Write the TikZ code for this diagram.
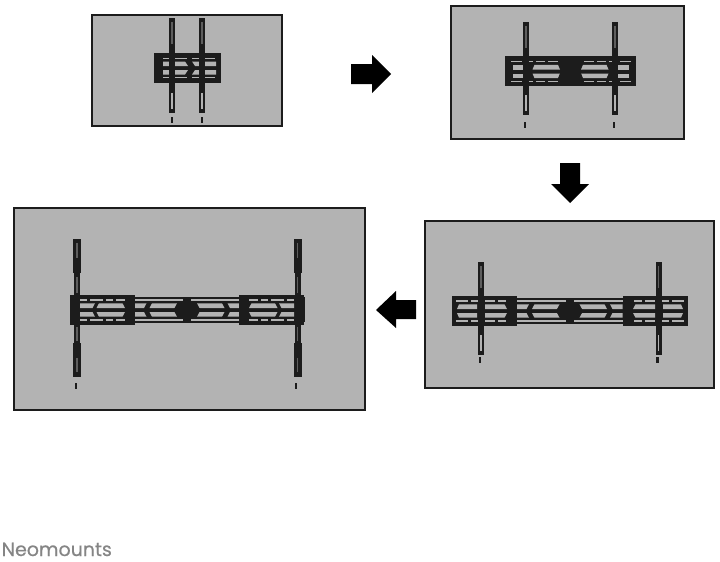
\documentclass[tikz,border=0pt]{standalone}
\usepackage{fontspec}
\setmainfont{Poppins}
\newfontfamily\brandfont{Poppins}[FakeBold=0.5]
\definecolor{panelgray}{HTML}{B3B3B3}
\definecolor{mountblack}{HTML}{1C1C1C}
\definecolor{railslot}{HTML}{5E5E5E}
\definecolor{brandgray}{HTML}{858585}
\tikzset{
  panel/.style={fill=panelgray,draw=mountblack,line width=1.2pt},
  metal/.style={fill=mountblack},
  slotfill/.style={fill=panelgray},
  railfill/.style={fill=railslot},
  blockarrow/.style={fill=black}
}
\newcommand{\slotbox}[4]{\fill[slotfill] (#1,#2) rectangle (#3,#4);}
\newcommand{\metalbox}[4]{\fill[metal] (#1,#2) rectangle (#3,#4);}
\newcommand{\railmark}[4]{\fill[railfill] (#1,#2) rectangle (#3,#4);}
% #1 x centre, #2 half-width, #3 top, #4 bottom
\newcommand{\railv}[4]{%
  \metalbox{#1-#2}{#3}{#1+#2}{#4}%
  \railmark{#1-0.6}{#3+4}{#1+0.6}{#3+26}%
  \slotbox{#1-0.8}{#4-20}{#1+0.8}{#4-4}%
}
\newcommand{\tickmark}[2]{\metalbox{#1-1.2}{#2}{#1+1.2}{#2+6}}
% two-row wide slots, rows mirrored about y=15
% #1..#4: x at top-left, bottom-left, top-right, bottom-right of the upper row
\newcommand{\widepair}[4]{%
  \fill[slotfill] (#1,8.3) -- (#3,8.3) -- (#4,13) -- (#2,13) -- cycle;
  \fill[slotfill] (#1,21.7) -- (#3,21.7) -- (#4,17) -- (#2,17) -- cycle;
}
\newcommand{\thinrows}[2]{\slotbox{#1}{4.3}{#2}{5.8}\slotbox{#1}{24}{#2}{25.5}}
% #1 outer edge x, #2 top y, #3 direction
\newcommand{\sideplate}[3]{%
  \begin{scope}[shift={(#1,#2)},xscale=#3]
    \metalbox{0}{0}{65}{30}
    \foreach \a/\b in {4/16,19/30,33/43,46/54}{\thinrows{\a}{\b}}
    \widepair{7}{5}{25}{25}
    \widepair{33}{33}{52.5}{55}
  \end{scope}%
}
\newcommand{\sideplatewide}[3]{%
  \begin{scope}[shift={(#1,#2)},xscale=#3]
    \metalbox{0}{0}{65}{30}
    \foreach \a/\b in {10/17,20/33,36/43,46/55}{\thinrows{\a}{\b}}
    \widepair{10}{10}{25}{22.5}
    \widepair{29}{26.5}{52.5}{55}
  \end{scope}%
}
% half of the extending bar: #1 centre x, #2 top y, #3 direction, #4 length
\newcommand{\barhalf}[4]{%
  \begin{scope}[shift={(#1,#2)},xscale=#3]
    \metalbox{0}{2}{#4}{28}
    \thinrows{4}{#4}
    \widepair{10}{12.5}{35}{37.5}
    \widepair{40.5}{43}{#4}{#4}
  \end{scope}%
}
\newcommand{\boss}[2]{%
  \begin{scope}[shift={(#1,#2)}]
    \fill[metal] (-14,0) -- (-7,-8) -- (7,-8) -- (14,0) -- (7,8) -- (-7,8) -- cycle;
    \metalbox{-3}{-13}{3}{13}
  \end{scope}%
}
\begin{document}
\begin{tikzpicture}[x=1pt,y=-1pt]
\useasboundingbox (0,0) rectangle (720,562);
\fill[white] (0,0) rectangle (720,562);

% panel 1
\draw[panel] (92,15) rectangle (282,126);
\metalbox{153.5}{53}{221}{83}
\foreach \a/\b in {163/170,175/187,192/200,205/215}{\slotbox{\a}{57.5}{\b}{59}\slotbox{\a}{76.5}{\b}{78}}
\fill[slotfill] (163,61.5) -- (185,61.5) -- (188,66) -- (163,66) -- cycle;
\fill[slotfill] (163,74.5) -- (185,74.5) -- (188,70) -- (163,70) -- cycle;
\fill[slotfill] (192,61.5) -- (216,61.5) -- (216,66) -- (195,66) -- cycle;
\fill[slotfill] (192,74.5) -- (216,74.5) -- (216,70) -- (195,70) -- cycle;
\railv{172}{3}{18}{113}
\railv{202}{3}{18}{113}
\tickmark{172}{117}
\tickmark{202}{117}

% panel 2
\draw[panel] (451,6) rectangle (684,139);
\metalbox{505}{56}{636}{86}
\foreach \s in {-1,1}{
  \begin{scope}[shift={(570.5,56.5)},xscale=\s]
    \foreach \a/\b in {13/23,26/35,38/47,49/60}{\thinrows{\a}{\b}}
    \widepair{12.5}{10.5}{36}{38}
    \widepair{47}{47}{58}{58}
  \end{scope}
}
\fill[metal] (558,63) -- (563,58) -- (578,58) -- (583,63) -- (580,71) -- (583,79) -- (578,85) -- (563,85) -- (558,79) -- (561,71) -- cycle;
\railv{526}{3}{22}{115}
\railv{615}{3}{22}{115}
\tickmark{525}{122}
\tickmark{614}{122}

% panel 3
\draw[panel] (425,221) rectangle (714,388);
\barhalf{569.5}{296}{-1}{53}
\barhalf{569.5}{296}{1}{53}
\boss{569.5}{311}
\sideplate{452}{296}{1}
\sideplate{688}{296}{-1}
\railv{481}{3}{262}{355}
\railv{658.5}{3}{262}{355}
\tickmark{480}{357}
\tickmark{657.5}{357}

% panel 4
\draw[panel] (14,208) rectangle (365,410);
\barhalf{187}{295}{-1}{53}
\barhalf{187}{295}{1}{53}
\boss{187}{310}
\sideplatewide{70}{295}{1}
\sideplatewide{304}{295}{-1}
\foreach \x in {77,297.5}{
  \metalbox{\x-4}{239}{\x+4}{273}
  \metalbox{\x-3}{273}{\x+3}{343}
  \metalbox{\x-4}{343}{\x+4}{377}
  \railmark{\x-0.6}{243}{\x+0.6}{258}
  \railmark{\x-0.6}{277}{\x+0.6}{293}
  \railmark{\x-0.8}{327}{\x+0.8}{341}
  \railmark{\x-0.6}{358}{\x+0.6}{372}
}
\metalbox{70}{297}{74}{322}
\metalbox{301}{297}{305}{322}
\tickmark{76}{383}
\tickmark{296}{383}

% arrows
\fill[blockarrow] (351,64) -- (372,64) -- (372,55) -- (391,74) -- (372,93) -- (372,84) -- (351,84) -- cycle;
\fill[blockarrow] (560,163) -- (580,163) -- (580,184) -- (589,184) -- (570,203) -- (551,184) -- (560,184) -- cycle;
\fill[blockarrow] (416,300) -- (396,300) -- (396,291) -- (376,310) -- (396,328) -- (396,319) -- (416,319) -- cycle;

\node[anchor=base west,inner sep=0pt,text=brandgray,font=\brandfont\fontsize{19}{23}\selectfont] (brand) at (1.5,556) {Neomounts};
\end{tikzpicture}
\end{document}
